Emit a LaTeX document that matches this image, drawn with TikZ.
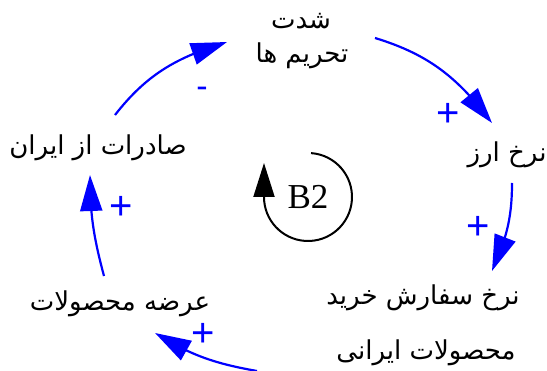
\documentclass[tikz,border=0pt]{standalone}
\usepackage{fontspec}
\setmainfont{Liberation Serif}
\newfontfamily\fa[Script=Arabic]{DejaVu Sans}
\newfontfamily\lat{Liberation Sans}
\TeXXeTstate=1
\usetikzlibrary{arrows.meta,calc,bending}
\begin{document}
\begin{tikzpicture}[x=1pt,y=1pt,
  lbl/.style={font=\fa\fontsize{26}{30}\selectfont, inner sep=0pt, anchor=base},
  pol/.style={text=blue, font=\lat\fontsize{40}{40}\selectfont, inner sep=0pt},
  link/.style={blue, line width=2.2pt, -{Triangle[length=36pt,width=22pt,flex]}},
  loopar/.style={black, line width=2pt, -{Triangle[length=34pt,width=21pt]}},
]
\useasboundingbox (0,0) rectangle (547,-371);
% variables
\node[lbl] (sa) at (301,-29) {\beginR شدت\endR};
\node[lbl] (sb) at (302,-63) {\beginR تحریم ها\endR};
\node[lbl] (nz) at (507,-162) {\beginR نرخ ارز\endR};
\node[lbl] (oa) at (423,-305) {\beginR نرخ سفارش خرید\endR};
\node[lbl] (ob) at (426,-360) {\beginR محصولات ایرانی\endR};
\node[lbl] (ar) at (120,-311) {\beginR عرضه محصولات\endR};
\node[lbl] (sd) at (98,-155) {\beginR صادرات از ایران\endR};
% connector end points
\coordinate (a1) at (375,-38);  \coordinate (b1) at (492,-123);
\coordinate (a2) at (512,-183); \coordinate (b2) at (492,-271);
\coordinate (a3) at (257,-371); \coordinate (b3) at (155,-333);
\coordinate (a4) at (104,-276); \coordinate (b4) at (90,-175);
\coordinate (a5) at (115,-115); \coordinate (b5) at (227,-42);
\draw[link] (a1) to[out=-17,in=127] (b1);
\draw[link] (a2) to[out=-90,in=66] (b2);
\draw[link] (a3) to[out=170,in=-32] (b3);
\draw[link] (a4) to[out=105,in=-90] (b4);
\draw[link] (a5) to[out=52,in=-163] (b5);
% polarities
\node[pol] (p1) at (448,-115) {+};
\node[pol] (p2) at (478,-228) {+};
\node[pol] (p3) at (203,-335) {+};
\node[pol] (p4) at (121,-208) {+};
\node[pol, font=\lat\fontsize{34}{34}\selectfont] (p5) at (202,-92) {-};
% loop marker
\coordinate (lc) at (308,-197);
\node[font=\fontsize{35}{35}\selectfont, inner sep=0pt] (bl) at (lc) {B2};
\draw[loopar] ($(lc)+(86:44)$) arc[start angle=86,end angle=-180,radius=44] -- ++(0,34);
\end{tikzpicture}
\end{document}
